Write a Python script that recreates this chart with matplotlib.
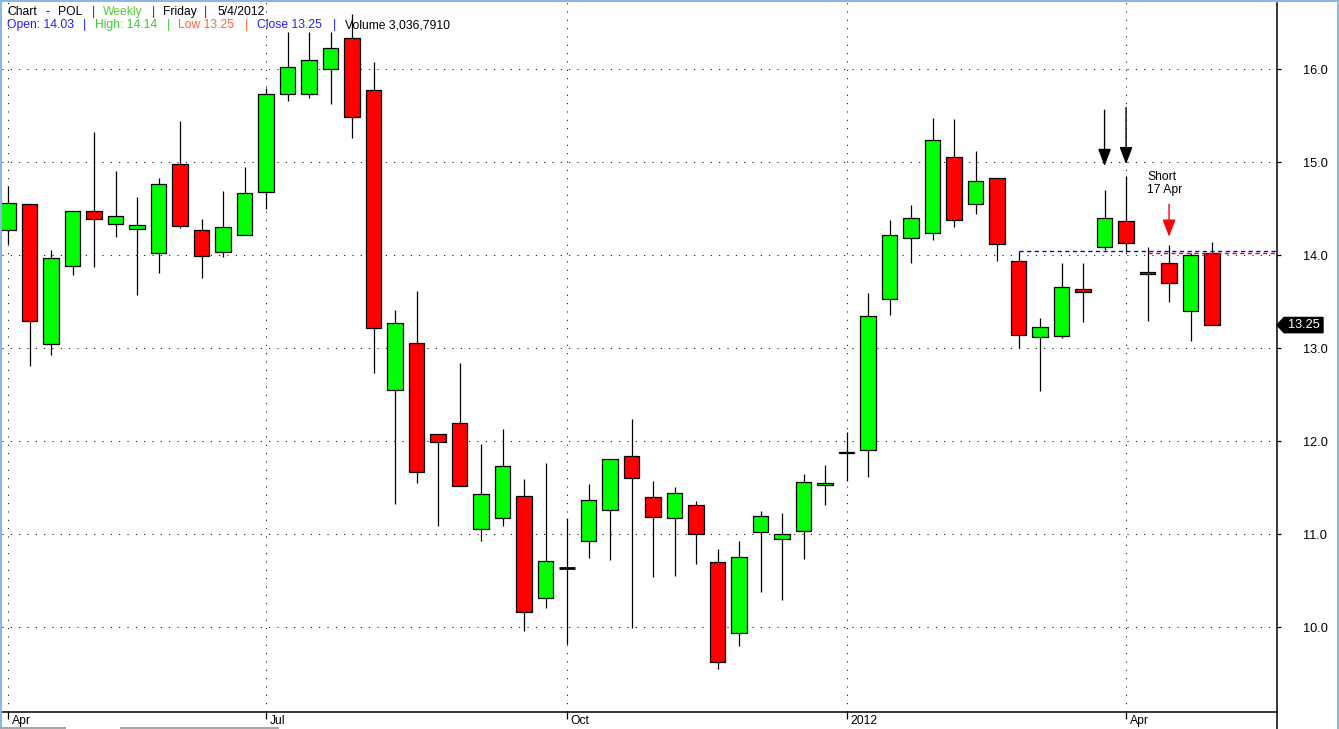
import numpy as np
import pandas as pd
import matplotlib
matplotlib.use("Agg")
import matplotlib.pyplot as plt
from matplotlib import transforms
from matplotlib.patches import Polygon, Rectangle
from matplotlib.lines import Line2D

plt.rcParams['font.family'] = ['Liberation Sans', 'DejaVu Sans']

# weekly POL candles, Apr 2011 - May 2012
dates = pd.date_range(end="2012-05-04", periods=57, freq="W-FRI")
opens = np.array([14.27, 14.55, 13.05, 13.89, 14.48, 14.34, 14.28, 14.03, 14.98, 14.27,
                  14.04, 14.22, 14.68, 15.73, 15.73, 16.00, 16.34, 15.78, 12.55, 13.06,
                  12.08, 12.20, 11.06, 11.18, 11.41, 10.31, 10.64, 10.93, 11.26, 11.84,
                  11.40, 11.18, 11.32, 10.70, 9.94, 11.02, 10.95, 11.04, 11.53, 11.87,
                  11.91, 13.53, 14.19, 14.24, 15.06, 14.55, 14.83, 13.94, 13.12, 13.13,
                  13.64, 14.09, 14.37, 13.82, 13.92, 13.40, 14.03])
highs = np.array([14.74, 14.55, 14.06, 14.48, 15.33, 14.91, 14.63, 14.83, 15.44, 14.39,
                  14.69, 14.95, 15.80, 16.40, 16.40, 16.40, 16.60, 16.08, 13.41, 13.62,
                  12.08, 12.84, 11.97, 12.13, 11.59, 11.77, 11.18, 11.54, 11.81, 12.24,
                  11.57, 11.51, 11.36, 10.84, 10.93, 11.25, 11.23, 11.65, 11.74, 12.10,
                  13.59, 14.38, 14.54, 15.48, 15.47, 15.12, 14.83, 14.05, 13.33, 13.92,
                  13.92, 14.70, 14.85, 14.09, 14.11, 14.03, 14.14])
lows = np.array([14.12, 12.81, 12.93, 13.79, 13.87, 14.20, 13.57, 13.81, 14.29, 13.76,
                 13.98, 14.22, 14.50, 15.66, 15.69, 15.63, 15.26, 12.73, 11.33, 11.55,
                 11.09, 11.52, 10.93, 11.09, 9.96, 10.21, 9.82, 10.75, 10.72, 9.99,
                 10.54, 10.55, 10.68, 9.55, 9.80, 10.38, 10.29, 10.73, 11.31, 11.57,
                 11.62, 13.36, 13.92, 14.16, 14.30, 14.44, 13.94, 13.00, 12.54, 13.11,
                 13.28, 14.06, 14.04, 13.29, 13.50, 13.08, 13.25])
closes = np.array([14.56, 13.29, 13.97, 14.48, 14.39, 14.42, 14.33, 14.77, 14.31, 13.99,
                   14.30, 14.67, 15.73, 16.02, 16.10, 16.23, 15.49, 13.22, 13.27, 11.67,
                   11.99, 11.52, 11.43, 11.73, 10.16, 10.71, 10.64, 11.37, 11.81, 11.61,
                   11.19, 11.44, 11.00, 9.63, 10.76, 11.20, 11.00, 11.56, 11.55, 11.89,
                   13.35, 14.22, 14.40, 15.24, 14.38, 14.80, 14.12, 13.14, 13.23, 13.66,
                   13.61, 14.40, 14.13, 13.80, 13.70, 14.00, 13.25])
volume_text = "3,036,7910"
price_grid = [10, 11, 12, 13, 14, 15, 16]

# annotations
signal_weeks = [51, 52]
signal_top = [15.56, 15.59]
signal_tip = [14.96, 14.98]
short_week = 54
short_top, short_tip = 14.55, 14.20
resist_start, resist_level = 47, 14.05
entry_start, entry_level = 53, 14.03

W, H = 1339, 729
FS = 8.7
fig = plt.figure(figsize=(W / 100, H / 100), dpi=100)
ax = fig.add_axes([2 / W, 1 - 712 / H, 1275 / W, 710 / H])
ax.set_xlim(-0.279, 59.02)
ax.set_ylim(9.089, 16.724)

x = np.arange(len(opens))

# gridlines (dotted)
dots = (0, (1, 7))
ax.hlines(price_grid, -0.279, 59.02, colors="black", lw=0.75, linestyles=dots, zorder=1)
month_idx = [i for i in range(len(dates))
             if (i == 0 or dates[i].month != dates[i - 1].month) and dates[i].month in (1, 4, 7, 10)]
month_lab = [str(dates[i].year) if dates[i].month == 1 else dates[i].strftime("%b") for i in month_idx]
ax.vlines(month_idx, 9.089, 16.724, colors="black", lw=0.75, linestyles=dots, zorder=1)

# candles
ax.vlines(x, lows, highs, color="black", lw=0.9, zorder=2)
doji = np.isclose(opens, closes)
body = ~doji
cols = np.where(closes > opens, "#00FF00", "#FF0000")
ax.bar(x[body], np.abs(closes - opens)[body], bottom=np.minimum(opens, closes)[body],
       width=0.71, color=cols[body], edgecolor="black", linewidth=0.9, zorder=3)
ax.hlines(opens[doji], x[doji] - 0.355, x[doji] + 0.355, color="black", lw=2, zorder=3)

# resistance / entry lines
ax.plot([resist_start, 59.02], [resist_level] * 2, color="#0000FF", lw=1.0,
        linestyle=(0, (3, 2.5)), zorder=4)
ax.plot([entry_start, 59.02], [entry_level] * 2, color="#FF0000", lw=1.0,
        linestyle=(0, (3, 2.5)), zorder=4)

# arrows
for wk, top, tip in zip(signal_weeks, signal_top, signal_tip):
    ax.annotate("", xy=(wk, tip), xytext=(wk, top),
                arrowprops=dict(arrowstyle="-|>,head_length=1.0,head_width=0.38", mutation_scale=10.5,
                                color="black", lw=1, shrinkA=0, shrinkB=0), zorder=5)
ax.annotate("", xy=(short_week, short_tip), xytext=(short_week, short_top),
            arrowprops=dict(arrowstyle="-|>,head_length=1.0,head_width=0.38", mutation_scale=10.5,
                            color="#FF0000", lw=1, shrinkA=0, shrinkB=0), zorder=5)
ax.text(52.98, 14.91, "Short\n17 Apr", fontsize=FS, ha="left", va="top", linespacing=1.1, zorder=5)

# axes styling
for s in ["top", "left", "right"]:
    ax.spines[s].set_visible(False)
ax.spines["bottom"].set_linewidth(1.1)
ax.yaxis.tick_right()
ax.set_yticks(price_grid)
ax.set_yticklabels([f"{v:.1f}" for v in price_grid], fontsize=9.2)
ax.tick_params(axis="y", length=3, width=0.9, pad=15.5, direction="out")
for lab in ax.get_yticklabels():
    lab.set_horizontalalignment("left")
ax.set_xticks(month_idx)
ax.set_xticklabels([])
ax.tick_params(axis="x", length=5, width=0.9, direction="out")
for i, lab in zip(month_idx, month_lab):
    ax.annotate(lab, xy=(i, 0), xycoords=("data", "axes fraction"), xytext=(2.5, -2.0),
                textcoords="offset points", ha="left", va="top", fontsize=FS)

# right spine running to the bottom edge
fig.add_artist(Line2D([1277 / W, 1277 / W], [1 - 3 / H, 0], transform=fig.transFigure, color="black", lw=1.1))

# last-price tag
pix_x = transforms.Affine2D().scale(1 / W, 1) + fig.transFigure
tag_tr = transforms.blended_transform_factory(pix_x, ax.transData)
c = closes[-1]
hh = 0.082
tag = Polygon([(1277, c), (1284, c + hh), (1323, c + hh), (1323, c - hh), (1284, c - hh)],
              closed=True, transform=tag_tr, facecolor="black", edgecolor="black", clip_on=False)
fig.add_artist(tag)
fig.text(1288, c, f"{c:.2f}", transform=tag_tr, color="white", fontsize=9.2, ha="left", va="center")

# header
px = lambda a, b: (a / W, 1 - b / H)
line1 = [(7, "Chart", "black"), (45, "-", "black"), (58, "POL", "black"), (92, "|", "#800080"),
         (103, "Weekly", "#55CC33"), (152, "|", "#800080"), (163, dates[-1].strftime("%A"), "black"),
         (204, "|", "#800080"), (217, f"{dates[-1].month}/{dates[-1].day}/{dates[-1].year}", "black")]
line2 = [(7, f"Open: {opens[-1]:.2f}", "#2020FF"), (83, "|", "#2020FF"),
         (95, f"High: {highs[-1]:.2f}", "#33CC33"), (167, "|", "#33CC33"),
         (178, f"Low {lows[-1]:.2f}", "#FF6633"), (245, "|", "#FF6633"),
         (257, f"Close {closes[-1]:.2f}", "#2020FF"), (333, "|", "#2020FF"),
         (345, f"Volume {volume_text}", "black")]
for xx, t, col in line1:
    fig.text(*px(xx, 15), t, color=col, fontsize=FS, va="baseline", ha="left")
for xx, t, col in line2:
    fig.text(*px(xx, 28), t, color=col, fontsize=FS, va="baseline", ha="left")

# window frame
blue = "#8DB6E2"
fig.add_artist(Rectangle((0, 0), 2 / W, 1, transform=fig.transFigure, color=blue, lw=0))
fig.add_artist(Rectangle((0, 1 - 2 / H), 1, 2 / H, transform=fig.transFigure, color=blue, lw=0))
fig.add_artist(Rectangle((1337 / W, 0), 2 / W, 1, transform=fig.transFigure, color=blue, lw=0))
for a, b in [(0, 66), (120, 279)]:
    fig.add_artist(Rectangle((a / W, 0), (b - a) / W, 2 / H, transform=fig.transFigure, color="#A8A8A8", lw=0))

fig.savefig("out.png", dpi=100)
